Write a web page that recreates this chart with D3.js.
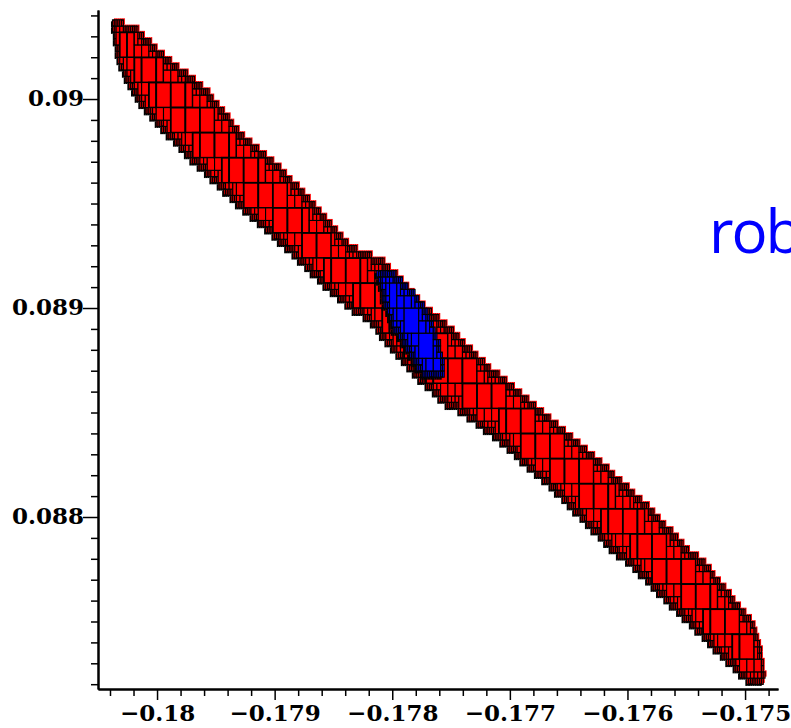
<!DOCTYPE html>
<html>
<head>
<meta charset="utf-8">
<script src="https://cdn.jsdelivr.net/npm/d3@7"></script>
<style>
body { margin: 0; background: #fff; }
</style>
</head>
<body>
<div id="grafica"></div>
<script>
// region of boxes (x, y in plot units)

const upperX = [-0.180383, -0.180289, -0.180281, -0.180204, -0.179915, -0.179575, -0.179269, -0.179039, -0.178869, -0.178614, -0.178359, -0.178078, -0.177934, -0.177704, -0.177568, -0.177509, -0.177338, -0.177168, -0.177083, -0.176658, -0.176233, -0.175808, -0.175493, -0.175323, -0.175102, -0.174957, -0.174898, -0.174855, -0.174830]
const upperY = [0.090364, 0.090364, 0.090349, 0.090344, 0.090187, 0.090033, 0.089818, 0.089708, 0.089612, 0.089459, 0.089287, 0.089215, 0.089134, 0.088990, 0.088928, 0.088895, 0.088799, 0.088703, 0.088670, 0.088464, 0.088258, 0.088033, 0.087842, 0.087761, 0.087603, 0.087507, 0.087445, 0.087330, 0.087220]

const lowerX = [-0.180383, -0.180357, -0.180340, -0.180255, -0.180119, -0.179915, -0.179694, -0.179490, -0.179320, -0.179039, -0.178784, -0.178529, -0.178359, -0.178214, -0.178078, -0.177934, -0.177789, -0.177653, -0.177594, -0.177423, -0.177296, -0.177083, -0.176658, -0.176122, -0.176020, -0.175808, -0.175578, -0.175298, -0.175043, -0.174983, -0.174830]
const lowerY = [0.090340, 0.090316, 0.090187, 0.090091, 0.089962, 0.089837, 0.089708, 0.089598, 0.089502, 0.089364, 0.089230, 0.089086, 0.089005, 0.088957, 0.088861, 0.088766, 0.088670, 0.088608, 0.088560, 0.088512, 0.088464, 0.088368, 0.088153, 0.087842, 0.087804, 0.087684, 0.087555, 0.087397, 0.087254, 0.087225, 0.087220]

// robust part (blue)
const blueX = [-0.178129, -0.177959, -0.177789, -0.177679, -0.177594, -0.177551, -0.177653, -0.177764, -0.177874, -0.177993, -0.178078, -0.178104]
const blueY = [0.089167, 0.089148, 0.089053, 0.088957, 0.088833, 0.088689, 0.088665, 0.088703, 0.088799, 0.088909, 0.089038, 0.089120]

const xTicks = [-0.18, -0.179, -0.178, -0.177, -0.176, -0.175]
const xTickLabels = ["\u22120.18", "\u22120.179", "\u22120.178", "\u22120.177", "\u22120.176", "\u22120.175"]
const yTicks = [0.088, 0.089, 0.09]
const yTickLabels = ["0.088", "0.089", "0.09"]
const sideLabel = "robust"

// starting box grid of the subdivision
const boxX0 = -0.180131
const boxW = 0.000124
const boxY0 = 0.090199
const boxH = 0.00012

let width = 791
let height = 728

const xScale = d3.scaleLinear()
    .domain([-0.180502, -0.17472])
    .range([98, 778])

const yScale = d3.scaleLinear()
    .domain([0.087177, 0.090426])
    .range([689, 10])

const svg = d3.select('#grafica')
    .append("svg")
    .attr("width", width)
    .attr("height", height)

const upper = d3.zip(upperX, upperY)
const lower = d3.zip(lowerX, lowerY)
const band = upper.concat(lower.slice().reverse())
const blue = d3.zip(blueX, blueY)

const toPx = poly => poly.map(d => [xScale(d[0]), yScale(d[1])])

// bisect a box until it fits in the region, keep the small boxes that touch it
function subdivide(poly, x0, x1, y0, y1, depth, maxDepth, out) {
    let inside = (x, y) => d3.polygonContains(poly, [xScale(x), yScale(y)])
    let n = [[x0, y0], [x1, y0], [x0, y1], [x1, y1]].filter(p => inside(p[0], p[1])).length
    if (n == 4) {
        out.push([x0, x1, y0, y1, depth])
        return
    }
    if (depth >= maxDepth) {
        if (n > 1 || inside((x0 + x1) / 2, (y0 + y1) / 2)) out.push([x0, x1, y0, y1, depth])
        return
    }
    if ((x1 - x0) >= (y1 - y0) * 0.999) {
        let xm = (x0 + x1) / 2
        subdivide(poly, x0, xm, y0, y1, depth + 1, maxDepth, out)
        subdivide(poly, xm, x1, y0, y1, depth + 1, maxDepth, out)
    } else {
        let ym = (y0 + y1) / 2
        subdivide(poly, x0, x1, y0, ym, depth + 1, maxDepth, out)
        subdivide(poly, x0, x1, ym, y1, depth + 1, maxDepth, out)
    }
}

function boxesOf(region, maxDepth) {
    let poly = toPx(region)
    let xs = region.map(d => d[0]), ys = region.map(d => d[1])
    let i0 = Math.floor((d3.min(xs) - boxX0) / boxW), i1 = Math.ceil((d3.max(xs) - boxX0) / boxW)
    let j0 = Math.floor((boxY0 - d3.max(ys)) / boxH), j1 = Math.ceil((boxY0 - d3.min(ys)) / boxH)
    let out = []
    for (let i = i0; i < i1; i++) {
        for (let j = j0; j < j1; j++) {
            let x0 = boxX0 + i * boxW
            let y1 = boxY0 - j * boxH
            subdivide(poly, x0, x0 + boxW, y1 - boxH, y1, 0, maxDepth, out)
        }
    }
    return out
}

function drawBoxes(g, boxes, fill, stroke, sw) {
    g.selectAll("rect").data(boxes).enter().append("rect")
        .attr("x", d => xScale(d[0]))
        .attr("y", d => yScale(d[3]))
        .attr("width", d => xScale(d[1]) - xScale(d[0]))
        .attr("height", d => yScale(d[2]) - yScale(d[3]))
        .attr("fill", fill)
        .attr("stroke", stroke)
        .attr("stroke-width", d => typeof sw === "function" ? sw(d) : sw)
}

const redBoxes = boxesOf(band, 5)
const blueBoxes = boxesOf(blue, 5)

// dark lower rim, red upper rim, then the boxes
drawBoxes(svg.append("g").attr("transform", "translate(-1.5,1.5)"), redBoxes, "#000", "none", 0)
drawBoxes(svg.append("g").attr("transform", "translate(1.5,-1.5)"), redBoxes, "#ff0000", "none", 0)
drawBoxes(svg.append("g"), redBoxes, "#ff0000", "#000", d => d[4] < 2 ? 1.8 : 1.1)

drawBoxes(svg.append("g").attr("transform", "translate(-2.5,2.5)"), blueBoxes, "#000", "none", 0)
drawBoxes(svg.append("g"), blueBoxes, "#0000ff", "#000", 1.1)

// axes
const xMinor = d3.range(-0.1804, -0.1747, 0.0002).filter(v => Math.abs(Math.round(v * 1000) - v * 1000) > 1e-6)
const yMinor = d3.range(0.0872, 0.09045, 0.0001).filter(v => Math.abs(Math.round(v * 1000) - v * 1000) > 1e-6)

const xAxisMinor = d3.axisBottom(xScale).tickValues(xMinor).tickSize(7).tickSizeOuter(0).tickFormat("")
const xAxis = d3.axisBottom(xScale).tickValues(xTicks).tickSize(11).tickSizeOuter(0)
    .tickFormat((d, i) => xTickLabels[i])
const yAxisMinor = d3.axisLeft(yScale).tickValues(yMinor).tickSize(7).tickSizeOuter(0).tickFormat("")
const yAxis = d3.axisLeft(yScale).tickValues(yTicks).tickSize(15).tickSizeOuter(0)
    .tickFormat((d, i) => yTickLabels[i])

svg.append("g").attr("transform", "translate(0,689)").call(xAxisMinor)
const gx = svg.append("g").attr("transform", "translate(0,689)").call(xAxis)
svg.append("g").attr("transform", "translate(98,0)").call(yAxisMinor)
const gy = svg.append("g").attr("transform", "translate(98,0)").call(yAxis)

svg.selectAll(".domain").attr("stroke", "#000").attr("stroke-width", 2)
svg.selectAll(".tick line").attr("stroke", "#000").attr("stroke-width", 1.5)

gx.selectAll("text")
    .attr("font-family", "DejaVu Serif")
    .attr("font-weight", "bold")
    .attr("font-size", 23)
    .attr("fill", "#000")
    .attr("y", 32)
    .attr("dy", 0)
gy.selectAll("text")
    .attr("font-family", "DejaVu Serif")
    .attr("font-weight", "bold")
    .attr("font-size", 23)
    .attr("fill", "#000")
    .attr("x", -14)
    .attr("dy", "0.28em")

svg.append("text")
    .attr("x", 709)
    .attr("y", 253)
    .attr("font-family", "Open Sans")
    .attr("font-size", 60)
    .attr("letter-spacing", -2)
    .attr("fill", "#0000ff")
    .text(sideLabel)
</script>
</body>
</html>
